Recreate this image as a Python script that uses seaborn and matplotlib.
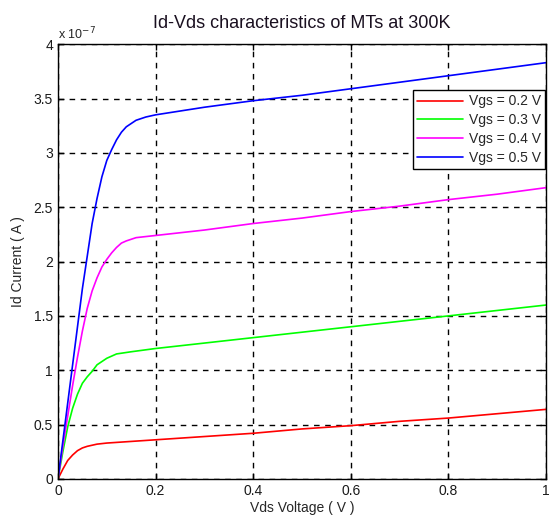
import numpy as np
import pandas as pd
import matplotlib
matplotlib.use("Agg")
import matplotlib.pyplot as plt
from matplotlib.ticker import FuncFormatter
import seaborn as sns

# Data (Id in units of 1e-7 A)
vds_red = [0, 0.01, 0.02, 0.03, 0.04, 0.05, 0.06, 0.08, 0.1, 0.15, 0.2, 0.3, 0.4, 0.5, 0.6, 0.7, 0.8, 0.9, 1.0]
id_red = [0, 0.09, 0.17, 0.22, 0.26, 0.285, 0.30, 0.32, 0.33, 0.345, 0.36, 0.39, 0.42, 0.46, 0.49, 0.53, 0.56, 0.60, 0.64]

vds_green = [0, 0.01, 0.02, 0.03, 0.04, 0.05, 0.06, 0.07, 0.08, 0.1, 0.12, 0.15, 0.2, 0.3, 0.4, 0.5, 0.6, 0.7, 0.8, 0.9, 1.0]
id_green = [0, 0.25, 0.48, 0.65, 0.78, 0.88, 0.94, 0.99, 1.05, 1.11, 1.15, 1.17, 1.20, 1.25, 1.30, 1.35, 1.40, 1.45, 1.50, 1.55, 1.60]

vds_mag = [0, 0.01, 0.02, 0.03, 0.04, 0.05, 0.06, 0.07, 0.08, 0.09, 0.1, 0.11, 0.12, 0.13, 0.14, 0.16, 0.2, 0.3, 0.4, 0.5, 0.6, 0.7, 0.8, 0.9, 1.0]
id_mag = [0, 0.30, 0.58, 0.86, 1.12, 1.36, 1.57, 1.73, 1.85, 1.95, 2.02, 2.08, 2.13, 2.17, 2.19, 2.22, 2.24, 2.29, 2.35, 2.40, 2.46, 2.51, 2.57, 2.62, 2.68]

vds_blue = [0, 0.01, 0.02, 0.03, 0.04, 0.05, 0.06, 0.07, 0.08, 0.09, 0.1, 0.11, 0.12, 0.13, 0.14, 0.16, 0.18, 0.2, 0.3, 0.4, 0.5, 0.6, 0.7, 0.8, 0.9, 1.0]
id_blue = [0, 0.35, 0.70, 1.05, 1.40, 1.75, 2.05, 2.35, 2.58, 2.78, 2.93, 3.03, 3.12, 3.19, 3.24, 3.30, 3.33, 3.35, 3.42, 3.48, 3.53, 3.59, 3.65, 3.71, 3.77, 3.83]

labels = ["Vgs = 0.2 V", "Vgs = 0.3 V", "Vgs = 0.4 V", "Vgs = 0.5 V"]
colors = ["#ff0000", "#00ff00", "#ff00ff", "#0000ff"]
x_ticks = [0, 0.2, 0.4, 0.6, 0.8, 1]
y_ticks = [0, 0.5, 1, 1.5, 2, 2.5, 3, 3.5, 4]

frames = []
for lab, xs, ys in zip(labels, [vds_red, vds_green, vds_mag, vds_blue], [id_red, id_green, id_mag, id_blue]):
    frames.append(pd.DataFrame({"Vds": xs, "Id": ys, "Vgs": lab}))
df = pd.concat(frames, ignore_index=True)

sns.set_style("white")
plt.rcParams["font.family"] = ["Liberation Sans", "DejaVu Sans"]

fig = plt.figure(figsize=(5.49, 5.20), dpi=100)
ax = fig.add_axes([0.1056, 0.079, 0.889, 0.836])

sns.lineplot(data=df, x="Vds", y="Id", hue="Vgs", hue_order=labels,
             palette=colors, ax=ax, linewidth=1.2, legend=True, estimator=None, sort=False)

ax.set_xlim(0, 1)
ax.set_ylim(0, 4)
ax.set_xticks(x_ticks)
ax.set_yticks(y_ticks)
ax.xaxis.set_major_formatter(FuncFormatter(lambda v, p: f"{v:g}"))
ax.yaxis.set_major_formatter(FuncFormatter(lambda v, p: f"{v:g}"))
ax.tick_params(direction="in", length=4, width=1, colors="black", labelsize=10,
               top=True, right=True, bottom=True, left=True)
for lab in ax.get_xticklabels() + ax.get_yticklabels():
    lab.set_color("#1a1a1a")
ax.grid(True, color="black", linestyle=(0, (4, 4)), linewidth=1)
for s in ax.spines.values():
    s.set_color("black")
    s.set_linewidth(1)
    s.set_visible(True)

ax.set_xlabel("Vds Voltage ( V )", fontsize=10, labelpad=2)
ax.set_ylabel("Id Current ( A )", fontsize=10, labelpad=6)
ax.set_title("Id-Vds characteristics of MTs at 300K", fontsize=13, pad=12, color="#1a1020")
ax.text(0.0, 1.005, "x 10$^{-7}$", transform=ax.transAxes, fontsize=9, ha="left", va="bottom")

leg = ax.legend(loc="upper right", bbox_to_anchor=(0.998, 0.894), frameon=True,
                fancybox=False, fontsize=10, borderpad=0.3, labelspacing=0.35,
                handlelength=3.3, handletextpad=0.4, borderaxespad=0)
leg.get_frame().set_edgecolor("black")
leg.get_frame().set_linewidth(1)
leg.get_frame().set_alpha(1)
for h in leg.get_lines():
    h.set_linewidth(1.2)

fig.savefig("out.png", dpi=100)
